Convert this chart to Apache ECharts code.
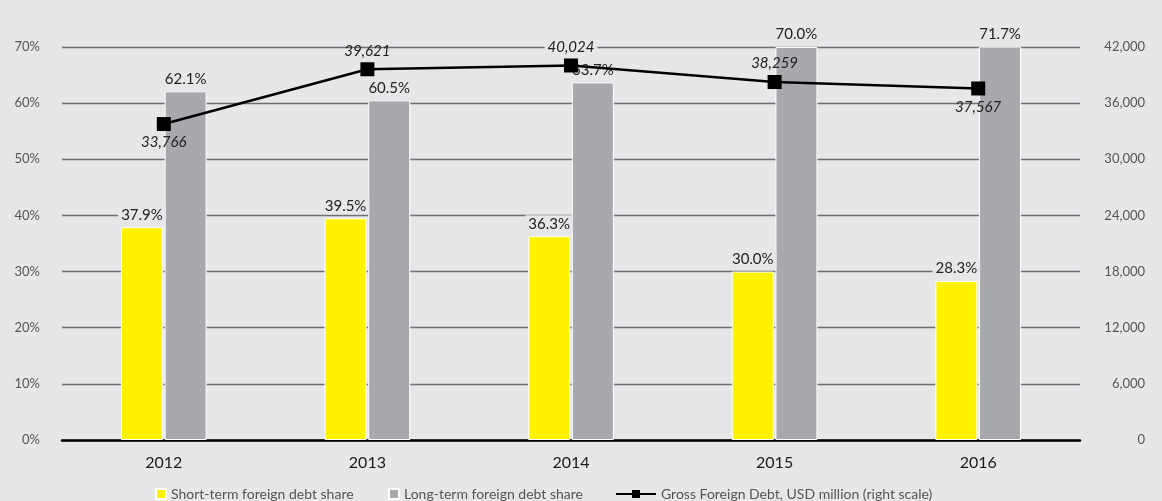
<!DOCTYPE html>
<html>
<head>
  <meta charset="utf-8">
  <title>Foreign debt</title>
  <script src="https://cdn.jsdelivr.net/npm/echarts@6/dist/echarts.min.js"></script>
  <style>
    html, body { margin: 0; padding: 0; background: #e6e7e8; }
  </style>
</head>
<body>
  <div id="main" style="width: 1162px;height:501px;"></div>
  <script type="text/javascript">
    var years = ['2012', '2013', '2014', '2015', '2016'];
    var shortShare = [37.9, 39.5, 36.3, 30.0, 28.3];
    var longShare = [62.1, 60.5, 63.7, 70.0, 71.7];
    var grossDebt = [33766, 39621, 40024, 38259, 37567];

    var bg = '#e6e7e8';
    var font = 'Lato';
    // where each debt label sits, and which ones mask the grid line behind them
    var debtLabelPos = ['bottom', 'top', 'top', 'top', 'bottom'];
    var debtLabelMask = [false, false, true, false, false];

    var myChart = echarts.init(document.getElementById('main'));

    var barLabel = {
      show: true,
      position: 'top',
      distance: 4,
      fontFamily: font,
      fontSize: 15,
      color: '#222',
      backgroundColor: bg,
      padding: [1, 3],
      formatter: function (p) { return p.value.toFixed(1) + '%'; }
    };

    var legendText = { fontSize: 14, color: '#555', fontFamily: font };

    var option = {
      backgroundColor: bg,
      animation: false,
      textStyle: { fontFamily: font },
      grid: { left: 62, right: 82, top: 47, bottom: 61, containLabel: false },
      legend: [
        {
          left: 150, top: 482, itemWidth: 10, itemHeight: 10, itemGap: 8,
          textStyle: legendText,
          data: [{ name: 'Short-term foreign debt share', icon: 'rect' }]
        },
        {
          left: 383, top: 482, itemWidth: 10, itemHeight: 10,
          textStyle: legendText,
          data: [{ name: 'Long-term foreign debt share', icon: 'rect' }]
        },
        {
          left: 610, top: 482, itemWidth: 40, itemHeight: 10,
          textStyle: legendText,
          data: ['Gross Foreign Debt, USD million (right scale)']
        }
      ],
      xAxis: {
        type: 'category',
        data: years,
        axisTick: { show: false },
        axisLine: { lineStyle: { color: '#000', width: 2.5 } },
        axisLabel: { fontSize: 16, color: '#1a1a1a', margin: 15, fontFamily: font }
      },
      yAxis: [
        {
          type: 'value',
          min: 0, max: 70, interval: 10,
          axisLine: { show: false },
          axisTick: { show: false },
          axisLabel: { formatter: '{value}%', fontSize: 13, color: '#555', margin: 22, fontFamily: font },
          splitLine: { lineStyle: { color: '#6d6e71', width: 1.3 } }
        },
        {
          type: 'value',
          min: 0, max: 42000, interval: 6000,
          axisLine: { show: false },
          axisTick: { show: false },
          axisLabel: {
            fontSize: 13, color: '#555', margin: 65, align: 'right', fontFamily: font,
            formatter: function (v) { return v.toLocaleString('en-US'); }
          },
          splitLine: { show: false }
        }
      ],
      series: [
        {
          name: 'Short-term foreign debt share',
          type: 'bar',
          data: shortShare,
          barWidth: 42,
          barGap: '4%',
          itemStyle: { color: '#fff200', borderColor: '#fff', borderWidth: 1 },
          label: barLabel
        },
        {
          name: 'Long-term foreign debt share',
          type: 'bar',
          data: longShare,
          barWidth: 42,
          itemStyle: { color: '#a7a9ac', borderColor: '#fff', borderWidth: 1 },
          label: barLabel
        },
        {
          name: 'Gross Foreign Debt, USD million (right scale)',
          type: 'line',
          yAxisIndex: 1,
          zlevel: 1,
          symbol: 'rect',
          symbolSize: 14,
          color: '#000',
          lineStyle: { color: '#000', width: 2.5 },
          itemStyle: { color: '#000' },
          data: grossDebt.map(function (v, i) {
            return {
              value: v,
              label: {
                position: debtLabelPos[i],
                backgroundColor: debtLabelMask[i] ? bg : 'transparent'
              }
            };
          }),
          label: {
            show: true,
            distance: 3,
            fontFamily: font,
            fontStyle: 'italic',
            fontSize: 15,
            color: '#222',
            padding: [1, 3],
            formatter: function (p) { return p.value.toLocaleString('en-US'); }
          }
        }
      ]
    };

    myChart.setOption(option);
  </script>
</body>
</html>
